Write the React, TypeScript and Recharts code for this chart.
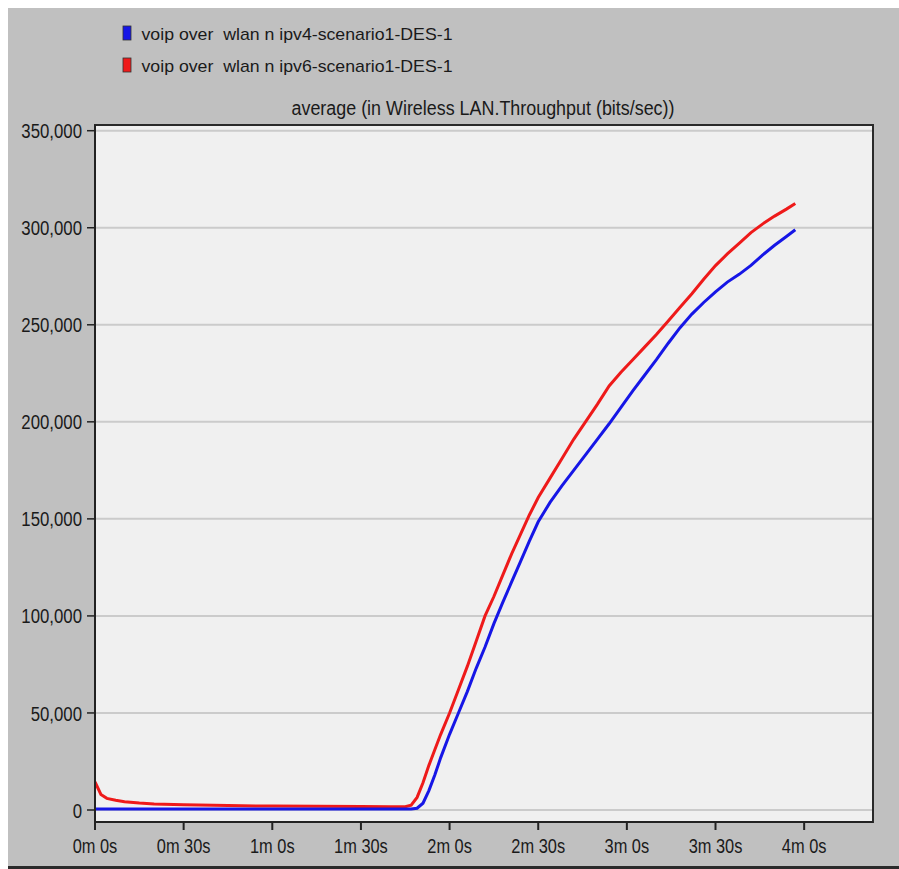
import {
  CartesianGrid,
  Line,
  LineChart,
  ReferenceArea,
  XAxis,
  YAxis,
} from 'recharts'

// simulation time (seconds)
const times = [
  0, 2, 4, 7, 10, 15, 20, 30, 45, 60, 75, 90, 100, 105, 107, 109, 111, 113, 115, 117,
  120, 123, 126, 129, 132, 135, 138, 141, 144, 147, 150, 154, 158, 162, 166, 170, 174,
  178, 182, 186, 190, 194, 198, 202, 206, 210, 214, 218, 222, 226, 230, 234, 237,
]

// average (in Wireless LAN.Throughput (bits/sec))
const ipv4Values = [
  500, 500, 500, 500, 500, 500, 500, 500, 500, 500, 500, 500, 500, 500, 500, 900, 3500,
  10000, 18000, 27000, 39000, 50000, 61000, 73000, 84000, 96000, 107000, 117500, 128000,
  138500, 148500, 158500, 167000, 175000, 183000, 191000, 199000, 207500, 216000, 224000,
  232000, 240500, 248500, 255500, 261500, 267000, 272000, 276000, 280600, 286000, 291000,
  295500, 299000,
]

const ipv6Values = [
  14500, 8000, 6000, 5000, 4300, 3600, 3100, 2700, 2300, 2000, 1900, 1800, 1700, 1700,
  2500, 6500, 14000, 23000, 31000, 39000, 50000, 62000, 74000, 87000, 100000, 110000,
  121000, 132000, 142000, 152000, 161000, 171000, 181000, 191000, 200000, 209000, 218500,
  225500, 232000, 238500, 245000, 252000, 259000, 266000, 273500, 280500, 286500, 292000,
  297500, 302000, 306000, 309600, 312500,
]

const seriesNames = [
  'voip over  wlan n ipv4-scenario1-DES-1',
  'voip over  wlan n ipv6-scenario1-DES-1',
]
const seriesColors = ['#1616e6', '#ee1a1a']

const xTicks = [0, 30, 60, 90, 120, 150, 180, 210, 240]
const yTicks = [0, 50000, 100000, 150000, 200000, 250000, 300000, 350000]

const chartTitle = 'average (in Wireless LAN.Throughput (bits/sec))'

const X_DOMAIN: [number, number] = [0, 263.3]
const Y_DOMAIN: [number, number] = [-6183, 352940]

const data = times.map((t, i) => ({
  t,
  ipv4: ipv4Values[i],
  ipv6: ipv6Values[i],
}))

const tickFont = 'Arial, "Liberation Sans", sans-serif'

function formatTime(value: number) {
  const m = Math.floor(value / 60)
  const s = Math.round(value % 60)
  return `${m}m ${s}s`
}

function formatNumber(value: number) {
  return new Intl.NumberFormat('en-US').format(value)
}

function YTick({ x, y, payload }: any) {
  return (
    <g transform={`translate(${x},${y}) scale(0.8,1)`}>
      <text x={0} y={0} dy="0.36em" textAnchor="end" fontSize={21} fontFamily={tickFont} fill="#1a1a1a">
        {formatNumber(payload.value)}
      </text>
    </g>
  )
}

function XTick({ x, y, payload }: any) {
  return (
    <g transform={`translate(${x},${y}) scale(0.82,1)`}>
      <text x={0} y={0} dy={21} textAnchor="middle" fontSize={20} fontFamily={tickFont} fill="#1a1a1a">
        {formatTime(payload.value)}
      </text>
    </g>
  )
}

function Header() {
  return (
    <svg
      width={899}
      height={125}
      style={{ position: 'absolute', left: 0, top: 0, pointerEvents: 'none' }}
    >
      {seriesNames.map((name, i) => (
        <g key={name}>
          <rect
            x={123}
            y={26 + i * 32}
            width={8}
            height={14}
            fill={seriesColors[i]}
            stroke="#333"
            strokeWidth={0.8}
          />
          <text
            x={141.5}
            y={40 + i * 32}
            fontSize={17}
            fontFamily={tickFont}
            fill="#1a1a1a"
            textLength={311}
            lengthAdjust="spacingAndGlyphs"
            xmlSpace="preserve"
            style={{ whiteSpace: 'pre' }}
          >
            {name}
          </text>
        </g>
      ))}
      <text
        x={291.5}
        y={115}
        fontSize={20}
        fontFamily={tickFont}
        fill="#1a1a1a"
        textLength={383}
        lengthAdjust="spacingAndGlyphs"
      >
        {chartTitle}
      </text>
    </svg>
  )
}

export default function App() {
  return (
    <div
      style={{
        position: 'fixed',
        left: 0,
        top: 0,
        width: 899,
        height: 869,
        background: '#ffffff',
        overflow: 'hidden',
      }}
    >
      <div
        style={{
          position: 'absolute',
          left: 8,
          top: 8,
          width: 891,
          height: 858,
          background: '#c0c0c0',
          borderBottom: '3px solid #2a2a2a',
        }}
      />
      <div style={{ position: 'absolute', left: 0, top: 0 }}>
        <LineChart
          width={899}
          height={869}
          data={data}
          margin={{ top: 125, right: 26, bottom: 7, left: 0 }}
        >
          <CartesianGrid
            vertical={false}
            stroke="#cbcbcb"
            strokeWidth={2}
            fill="#f0f0f0"
            fillOpacity={1}
          />
          <XAxis
            dataKey="t"
            type="number"
            domain={X_DOMAIN}
            ticks={xTicks}
            allowDataOverflow
            height={40}
            tickSize={8}
            tickMargin={2}
            tick={<XTick />}
            axisLine={{ stroke: '#222', strokeWidth: 2 }}
            tickLine={{ stroke: '#222', strokeWidth: 2 }}
          />
          <YAxis
            type="number"
            domain={Y_DOMAIN}
            ticks={yTicks}
            allowDataOverflow
            width={95}
            tickSize={8}
            tickMargin={5}
            tick={<YTick />}
            axisLine={{ stroke: '#222', strokeWidth: 2 }}
            tickLine={{ stroke: '#222', strokeWidth: 1.5 }}
          />
          <ReferenceArea
            x1={X_DOMAIN[0]}
            x2={X_DOMAIN[1]}
            y1={Y_DOMAIN[0]}
            y2={Y_DOMAIN[1]}
            fill="none"
            stroke="#2a2a2a"
            strokeWidth={2}
            ifOverflow="visible"
          />
          <Line
            type="linear"
            dataKey="ipv6"
            stroke={seriesColors[1]}
            strokeWidth={3}
            dot={false}
            isAnimationActive={false}
          />
          <Line
            type="linear"
            dataKey="ipv4"
            stroke={seriesColors[0]}
            strokeWidth={3}
            dot={false}
            isAnimationActive={false}
          />
        </LineChart>
      </div>
      <Header />
    </div>
  )
}
